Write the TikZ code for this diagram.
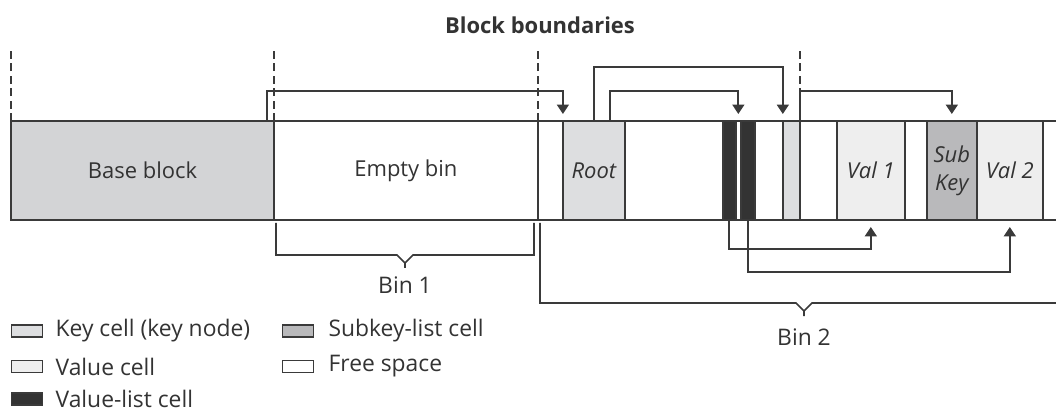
\documentclass[tikz,border=0pt]{standalone}
\usepackage{fontspec}
\setmainfont{Open Sans}
\usetikzlibrary{arrows.meta, positioning, calc}

\definecolor{linegray}{HTML}{3A3A3A}
\definecolor{textgray}{HTML}{333333}
\definecolor{basegray}{HTML}{D3D4D6}
\definecolor{keygray}{HTML}{DDDEE0}
\definecolor{valgray}{HTML}{EEEEEE}
\definecolor{subgray}{HTML}{B9B9BB}
\definecolor{listgray}{HTML}{333333}

\tikzset{
    cell/.style={
        draw=linegray,
        line width=1.1pt,
        minimum height=1.98cm,
        inner sep=0pt,
        outer sep=0pt,
        align=center,
        text=textgray,
        font=\fontsize{12.5}{16}\selectfont
    },
    keytext/.style={
        font=\fontsize{12.5}{16}\selectfont\itshape
    },
    legbox/.style={
        draw=linegray,
        line width=0.9pt,
        minimum width=0.62cm,
        minimum height=0.24cm,
        inner sep=0pt
    },
    legtext/.style={
        inner sep=0pt,
        text=textgray,
        font=\fontsize{13}{16}\selectfont
    },
    ptr/.style={-{Triangle[width=0.24cm,length=0.19cm]}, line width=1.1pt, draw=linegray, shorten >=0.14cm},
    boundary/.style={draw=linegray, line width=0.9pt, dash pattern=on 0.16cm off 0.09cm},
    bracket/.style={draw=linegray, line width=1pt}
}

\begin{document}
\begin{tikzpicture}[
    x=0.02cm, y=-0.02cm,
    title/.style={
        text=textgray,
        font=\fontsize{12.5}{15}\selectfont\bfseries
    },
    binlabel/.style={
        inner sep=0pt,
        anchor=north,
        text=textgray,
        font=\fontsize{13}{16}\selectfont
    }
]
\useasboundingbox (0,0) rectangle (1056,412);

% lanes for the pointers
\coordinate (roof) at (0,47);
\coordinate (laneHi) at (0,67);
\coordinate (laneLo) at (0,91);
\coordinate (laneB1) at (0,249);
\coordinate (laneB2) at (0,272);

\node[title] (head) at (540,25) {Block boundaries};

% the bins and their cells
\node[cell, fill=basegray, minimum width=5.26cm, anchor=north west] (base) at (11,121) {Base block};
\node[cell, fill=white, minimum width=5.28cm, right=0pt of base] (empty) {Empty bin};
\node[cell, fill=white, minimum width=0.50cm, right=0pt of empty] (free1) {};
\node[cell, keytext, fill=keygray, minimum width=1.24cm, right=0pt of free1] (root) {Root};
\node[cell, fill=white, minimum width=1.96cm, right=0pt of root] (free2) {};
\node[cell, fill=listgray, minimum width=0.26cm, right=0pt of free2] (vlist1) {};
\node[cell, fill=white, minimum width=0.10cm, right=0pt of vlist1] (gap) {};
\node[cell, fill=listgray, minimum width=0.28cm, right=0pt of gap] (vlist2) {};
\node[cell, fill=white, minimum width=0.56cm, right=0pt of vlist2] (free3) {};
\node[cell, fill=keygray, minimum width=0.34cm, right=0pt of free3] (key2) {};
\node[cell, fill=white, minimum width=0.74cm, right=0pt of key2] (free4) {};
\node[cell, keytext, fill=valgray, minimum width=1.36cm, right=0pt of free4] (val1) {Val 1};
\node[cell, fill=white, minimum width=0.44cm, right=0pt of val1] (free5) {};
\node[cell, keytext, fill=subgray, minimum width=1.00cm, right=0pt of free5] (sub) {Sub\\Key};
\node[cell, keytext, fill=valgray, minimum width=1.32cm, right=0pt of sub] (val2) {Val 2};
\node[cell, fill=white, minimum width=0.40cm, right=0pt of val2] (tail) {};

% block boundaries
\foreach \c in {base.north west, empty.north west, empty.north east, key2.north east}
    \draw[boundary] (\c) -- (\c |- roof);

% pointers between cells
\draw[ptr] ([xshift=-0.14cm]base.north east) -- ([xshift=-0.14cm]base.north east |- laneLo) -| (root.north west);
\draw[ptr] (root.north) -- (root.north |- laneHi) -| (key2.north west);
\draw[ptr] ([xshift=0.32cm]root.north) -- ([xshift=0.32cm]root.north |- laneLo) -| (gap.north);
\draw[ptr] (key2.north east) -- (key2.north east |- laneLo) -| (sub.north);
\draw[ptr] (vlist1.south) -- (vlist1.south |- laneB1) -| (val1.south);
\draw[ptr] (vlist2.south) -- (vlist2.south |- laneB2) -| (val2.south);

% bin brackets
\coordinate (notch1) at (405,263);
\coordinate (notch2) at (804,311);
\draw[bracket] ([xshift=0.04cm,yshift=-0.06cm]empty.south west) |- ([xshift=-0.16cm,yshift=0.16cm]notch1) -- (notch1) -- ++(0,5) ++(0,-5) -- ([xshift=0.16cm,yshift=0.16cm]notch1) -| ([xshift=-0.08cm,yshift=-0.06cm]empty.south east);
\draw[bracket] ([xshift=0.04cm,yshift=-0.06cm]free1.south west) |- ([xshift=-0.16cm,yshift=0.16cm]notch2) -- (notch2) -- ++(0,5) ++(0,-5) -- ([xshift=0.16cm,yshift=0.16cm]notch2) -- ++(260,0);
\node[binlabel, below=0.26cm of notch1] (bin1) {Bin 1};
\node[binlabel, below=0.34cm of notch2] (bin2) {Bin 2};

% legend
\node[legbox, fill=keygray] (lkey) at (27,331) {};
\node[legtext, right=0.24cm of lkey] (lkeytext) {Key cell (key node)};
\node[legbox, fill=valgray, below=0.44cm of lkey] (lval) {};
\node[legtext, right=0.24cm of lval] (lvaltext) {Value cell};
\node[legbox, fill=listgray, below=0.38cm of lval] (llist) {};
\node[legtext, right=0.24cm of llist] (llisttext) {Value-list cell};
\node[legbox, fill=subgray] (lsub) at (298,331) {};
\node[legtext, right=0.28cm of lsub] (lsubtext) {Subkey-list cell};
\node[legbox, fill=white, below=0.44cm of lsub] (lfree) {};
\node[legtext, right=0.28cm of lfree] (lfreetext) {Free space};

\end{tikzpicture}
\end{document}
